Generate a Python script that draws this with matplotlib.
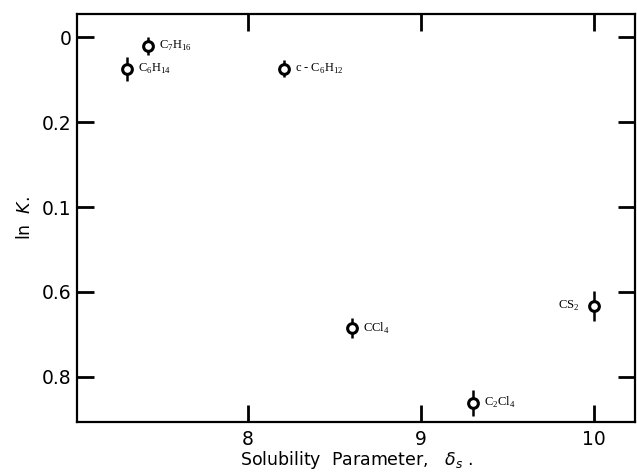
import matplotlib.pyplot as plt

plt.rcParams['font.family'] = ['DejaVu Sans']
plt.rcParams['mathtext.fontset'] = 'custom'
plt.rcParams['mathtext.rm'] = 'Liberation Serif'
plt.rcParams['mathtext.it'] = 'DejaVu Sans:italic'

# Dados
solventes = ['C$_7$H$_{16}$', 'C$_6$H$_{14}$', 'c - C$_6$H$_{12}$',
             'CCl$_4$', 'C$_2$Cl$_4$', 'CS$_2$']
delta = [7.42, 7.30, 8.21, 8.60, 9.30, 10.00]
lnK = [0.021, 0.075, 0.075, 0.685, 0.861, 0.633]
erro = [0.022, 0.028, 0.020, 0.024, 0.030, 0.035]

yticks = [0, 0.2, 0.4, 0.6, 0.8]
ytick_labels = ['0', '0.2', '0.1', '0.6', '0.8']
xticks = [8, 9, 10]

fig = plt.figure(figsize=(6.37, 4.72), dpi=100)
ax = fig.add_axes([0.121, 0.106, 0.876, 0.864])

ax.errorbar(delta, lnK, yerr=erro, fmt='o', color='black',
            markerfacecolor='white', markeredgecolor='black',
            markersize=7, markeredgewidth=2.2, elinewidth=1.8, capsize=0)

# Rótulos dos pontos
for i, nome in enumerate(solventes):
    if i == 5:
        off, ha = (-10, 0), 'right'
    else:
        off, ha = (8, 0), 'left'
    ax.annotate(nome, (delta[i], lnK[i]), xytext=off, textcoords='offset points',
                ha=ha, va='center', fontsize=9, family='Liberation Serif')

ax.set_xlim(7.01, 10.24)
ax.set_ylim(0.906, -0.054)
ax.set_xticks(xticks)
ax.set_yticks(yticks)
ax.set_yticklabels(ytick_labels)

ax.tick_params(direction='in', length=12, width=2, labelsize=13.5,
               top=True, right=True, pad=4)
ax.tick_params(axis='x', pad=6)
for s in ax.spines.values():
    s.set_linewidth(1.6)

ax.set_xlabel(r'Solubility  Parameter,   $\delta_s$ .', fontsize=12.5, labelpad=0)
ax.set_ylabel(r'ln  $\mathit{K}$.', fontsize=12.5, labelpad=6)

plt.savefig('out.png', dpi=100)
